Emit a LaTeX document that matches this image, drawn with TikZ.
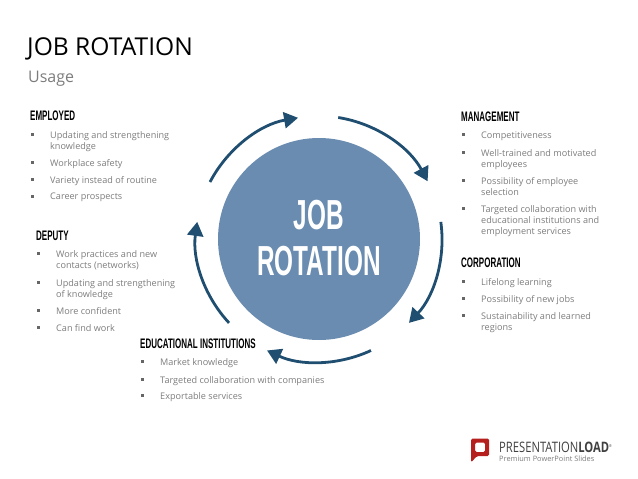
\documentclass[tikz,border=0pt]{standalone}
\usepackage{fontspec}
\usetikzlibrary{arrows.meta,calc}
\setmainfont{Open Sans}
\newfontfamily\headfont[FakeStretch=0.58]{Liberation Sans Bold}
\newfontfamily\bigfont[FakeStretch=0.58]{Liberation Sans Bold}
\newfontfamily\logofont[FakeStretch=0.78]{Open Sans}
\definecolor{arrowblue}{HTML}{1F4E70}
\definecolor{discblue}{HTML}{6A8CB0}
\definecolor{bodygray}{HTML}{7C7C7C}
\definecolor{logored}{HTML}{B5201E}
\newcommand{\itm}[4]{%
  \node[bul] (#1b) at (#2-17.7,#3) {};
  \node[item,anchor=north west] (#1) at (#2,#3-3) {#4};
}
\tikzset{
  head/.style={anchor=west,inner sep=0pt,font=\headfont\fontsize{13.8}{14}\selectfont,text=black},
  item/.style={inner sep=0pt,align=left,text=bodygray,font=\fontsize{9.1}{11.3}\selectfont},
  bul/.style={fill=black!60,inner sep=0pt,minimum size=3pt},
  cyc/.style={draw=arrowblue,line width=2.8pt,-{Triangle[length=14pt,width=16pt]}},
  bigtext/.style={inner sep=0pt,text=white,font=\bigfont\fontsize{42}{44}\selectfont},
}
\begin{document}
\begin{tikzpicture}[x=1pt,y=-1pt]
\useasboundingbox (0,0) rectangle (638,479);
\node[anchor=west,inner sep=0pt,font=\fontsize{24.6}{26}\selectfont,text=black] (title) at (27,49) {JOB ROTATION};
\node[anchor=west,inner sep=0pt,font=\fontsize{16}{18}\selectfont,text=bodygray] (usage) at (28,79) {Usage};
\node[circle,fill=discblue,minimum size=202pt,inner sep=0pt] (disc) at (319,239) {};
\node[bigtext] (job) at (319,215.5) {JOB};
\node[bigtext] (rot) at (319,261) {ROTATION};
% cycle arrows
\coordinate (a1s) at ($(disc.center)+(152.4:123pt)$);
\coordinate (a2s) at ($(disc.center)+(81:123pt)$);
\coordinate (a3s) at ($(disc.center)+(8:123pt)$);
\coordinate (a4s) at ($(disc.center)+(-65:123pt)$);
\coordinate (a5s) at ($(disc.center)+(-137:123pt)$);
\draw[cyc] (a1s) arc[start angle=152.4,end angle=99.8,radius=123pt];
\draw[cyc] (a2s) arc[start angle=81,end angle=28,radius=123pt];
\draw[cyc] (a3s) arc[start angle=8,end angle=-43,radius=123pt];
\draw[cyc] (a4s) arc[start angle=-65,end angle=-115,radius=123pt];
\draw[cyc] (a5s) arc[start angle=-137,end angle=-188,radius=123pt];
% employed
\node[head] (emp) at (30,116) {EMPLOYED};
\itm{e1}{50}{134.5}{Updating and strengthening\\knowledge}
\itm{e2}{50}{162}{Workplace safety}
\itm{e3}{50}{179}{Variety instead of routine}
\itm{e4}{50}{196}{Career prospects}
% management
\node[head] (man) at (461,116.5) {MANAGEMENT};
\itm{m1}{481}{134.5}{Competitiveness}
\itm{m2}{481}{152}{Well-trained and motivated\\employees}
\itm{m3}{481}{180}{Possibility of employee\\selection}
\itm{m4}{481}{208}{Targeted collaboration with\\educational institutions and\\employment services}
% corporation
\node[head] (cor) at (461,263) {CORPORATION};
\itm{c1}{481}{281}{Lifelong learning}
\itm{c2}{481}{298}{Possibility of new jobs}
\itm{c3}{481}{315}{Sustainability and learned\\regions}
% deputy
\node[head] (dep) at (36,236) {DEPUTY};
\itm{d1}{56}{253.5}{Work practices and new\\contacts (networks)}
\itm{d2}{56}{282.5}{Updating and strengthening\\of knowledge}
\itm{d3}{56}{310.5}{More confident}
\itm{d4}{56}{327.5}{Can find work}
% educational
\node[head] (edu) at (140,344) {EDUCATIONAL INSTITUTIONS};
\itm{u1}{160}{361.5}{Market knowledge}
\itm{u2}{160}{379}{Targeted collaboration with companies}
\itm{u3}{160}{395.7}{Exportable services}
% logo
\fill[logored,even odd rule,rounded corners=1.5pt] (471,438.5) -- (489,438.5) -- (489,456) -- (477,456) -- (471,462.5) -- cycle
  (475,442.5) -- (485,442.5) -- (485,452) -- (475,452) -- cycle;
\node[anchor=west,inner sep=0pt,text=black!75,font=\logofont\fontsize{14.4}{15}\selectfont] (logo) at (499,447) {PRESENTATION\textbf{LOAD}\raisebox{5pt}{\fontsize{4}{4}\selectfont ®}};
\node[anchor=west,inner sep=0pt,text=bodygray,font=\fontsize{7.4}{8}\selectfont] (logosub) at (499,459) {Premium PowerPoint Slides};
\end{tikzpicture}
\end{document}
